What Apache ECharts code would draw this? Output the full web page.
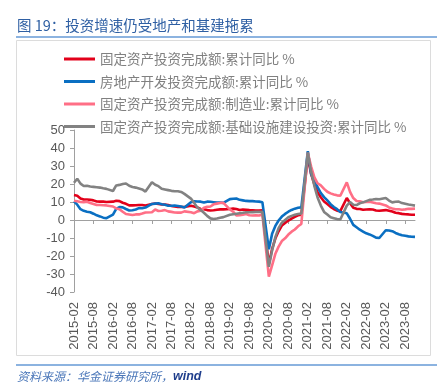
<!DOCTYPE html>
<html>
<head>
<meta charset="utf-8">
<script src="https://cdn.jsdelivr.net/npm/echarts@6/dist/echarts.min.js"></script>
<style>html,body{margin:0;padding:0;background:#fff;}#c{width:437px;height:389px;}</style>
</head>
<body>
<div id="c"></div>
<script>
// Months from 2015-02 to 2023-11 (January has no cumulative figure -> null)
const startYear = 2015, startMonth = 2, endYear = 2023, endMonth = 11;
const categories = [];
for (let y = startYear; y <= endYear; y++) {
  for (let m = (y === startYear ? startMonth : 1); m <= (y === endYear ? endMonth : 12); m++) {
    categories.push(y + '-' + (m < 10 ? '0' + m : m));
  }
}

const seriesNames = [
  '固定资产投资完成额:累计同比 %',
  '房地产开发投资完成额:累计同比 %',
  '固定资产投资完成额:制造业:累计同比 %',
  '固定资产投资完成额:基础设施建设投资:累计同比 %'
];

// Each row: Feb..Dec, then null for next January
const fai = [
  13.9, 13.5, 12.0, 11.4, 11.4, 11.2, 10.9, 10.3, 10.2, 10.2, 10.0, null,
  10.2, 10.7, 10.5, 9.6, 9.0, 8.1, 8.1, 8.2, 8.3, 8.3, 8.1, null,
  8.9, 9.2, 8.9, 8.6, 8.6, 8.3, 7.8, 7.5, 7.3, 7.2, 7.2, null,
  7.9, 7.5, 7.0, 6.1, 6.0, 5.5, 5.3, 5.4, 5.7, 5.9, 5.9, null,
  6.1, 6.3, 6.1, 5.6, 5.8, 5.7, 5.5, 5.4, 5.2, 5.2, 5.4, null,
  -24.5, -16.1, -10.3, -6.3, -3.1, -1.6, -0.3, 0.8, 1.8, 2.6, 2.9, null,
  35.0, 25.6, 19.9, 15.4, 12.6, 10.3, 8.9, 7.3, 6.1, 5.2, 4.9, null,
  12.2, 9.3, 6.8, 6.2, 6.1, 5.7, 5.8, 5.9, 5.8, 5.3, 5.1, null,
  5.5, 5.1, 4.7, 4.0, 3.8, 3.4, 3.2, 3.1, 2.9, 2.9
];

const realEstate = [
  10.4, 8.5, 6.0, 5.1, 4.6, 4.3, 3.5, 2.6, 2.0, 1.3, 1.0, null,
  3.0, 6.2, 7.2, 7.0, 6.1, 5.3, 5.4, 5.8, 6.6, 6.5, 6.9, null,
  8.9, 9.1, 9.3, 8.8, 8.5, 7.9, 7.9, 8.1, 7.8, 7.5, 7.0, null,
  9.9, 10.4, 10.3, 10.2, 9.7, 10.2, 10.1, 9.9, 9.7, 9.7, 9.5, null,
  11.6, 11.8, 11.9, 11.2, 10.9, 10.6, 10.5, 10.5, 10.3, 10.2, 9.9, null,
  -16.3, -7.7, -3.3, -0.3, 1.9, 3.4, 4.6, 5.6, 6.3, 6.8, 7.0, null,
  38.3, 25.6, 21.6, 18.3, 15.0, 12.7, 10.9, 8.8, 7.2, 6.0, 4.4, null,
  3.7, 0.7, -2.7, -4.0, -5.4, -6.4, -7.4, -8.0, -8.8, -9.8, -10.0, null,
  -5.7, -5.8, -6.2, -7.2, -7.9, -8.5, -8.8, -9.1, -9.3, -9.4
];

const manufacturing = [
  10.7, 10.4, 10.0, 9.9, 10.1, 9.4, 8.9, 8.3, 8.3, 8.2, 8.1, null,
  7.5, 6.4, 6.0, 4.6, 3.3, 3.1, 2.8, 3.1, 3.1, 3.6, 4.2, null,
  4.3, 5.8, 5.0, 5.1, 5.5, 4.8, 4.5, 4.2, 4.1, 4.1, 4.8, null,
  4.3, 3.8, 4.8, 5.2, 6.8, 7.3, 7.5, 8.7, 9.1, 9.5, 9.5, null,
  5.9, 4.6, 2.5, 2.7, 3.0, 3.3, 2.6, 2.5, 2.6, 2.5, 3.1, null,
  -31.5, -25.2, -18.8, -14.8, -11.7, -10.2, -8.1, -6.5, -5.3, -3.5, -2.2, null,
  37.3, 29.8, 23.8, 20.4, 19.2, 17.3, 15.7, 14.8, 14.2, 13.7, 13.5, null,
  20.9, 15.6, 12.2, 10.6, 10.4, 9.9, 10.0, 10.1, 9.7, 9.3, 9.1, null,
  8.1, 7.0, 6.4, 6.0, 6.0, 5.7, 5.9, 6.2, 6.2, 6.3
];

const infrastructure = [
  20.7, 22.9, 20.2, 18.9, 19.0, 18.6, 18.4, 18.2, 18.0, 17.6, 17.3, null,
  16.1, 19.2, 19.5, 20.0, 20.3, 19.0, 18.3, 18.0, 17.5, 17.0, 15.8, null,
  21.0, 19.6, 18.8, 17.4, 17.0, 16.6, 16.2, 16.0, 16.0, 15.6, 14.5, null,
  11.9, 9.5, 7.0, 5.5, 4.0, 2.3, 0.9, 0.6, 0.8, 1.2, 1.6, null,
  2.9, 3.2, 3.5, 3.8, 4.0, 4.3, 4.3, 4.4, 4.5, 4.5, 4.6, null,
  -26.0, -17.0, -9.5, -4.5, -1.5, 0.0, 1.5, 2.3, 2.9, 3.3, 3.6, null,
  37.5, 27.0, 19.0, 12.5, 8.0, 4.5, 3.0, 1.5, 1.0, 0.5, 0.3, null,
  8.0, 10.0, 8.5, 8.3, 9.3, 9.8, 10.5, 11.2, 11.4, 11.7, 11.5, null,
  12.2, 10.8, 9.8, 10.1, 10.2, 9.4, 9.0, 8.6, 8.3, 8.0
];

const yTicks = { min: -40, max: 50, interval: 10 };
const colors = ['#e2001a', '#0a6fc2', '#ff6f86', '#828282'];
const seriesData = [fai, realEstate, manufacturing, infrastructure];

const chart = echarts.init(document.getElementById('c'), null, { renderer: 'canvas' });
const cjk = '"Noto Sans CJK SC", "Noto Sans", sans-serif';
const latin = '"Liberation Sans", Arial, sans-serif';

chart.setOption({
  animation: false,
  backgroundColor: '#ffffff',
  grid: { left: 74, right: 22, top: 130, bottom: 97, containLabel: false },
  legend: {
    orient: 'vertical',
    left: 59,
    top: 46,
    itemWidth: 31,
    itemHeight: 3,
    itemGap: 6.5,
    icon: 'rect',
    data: seriesNames,
    textStyle: { color: '#808080', fontSize: 13.5, fontFamily: cjk, lineHeight: 16 }
  },
  xAxis: [
    {
      type: 'category',
      data: categories,
      boundaryGap: false,
      position: 'bottom',
      axisLine: { show: false, onZero: false },
      axisTick: { show: false },
      axisLabel: { rotate: 90, interval: 5, margin: 10, color: '#595959', fontSize: 13, fontFamily: latin }
    },
    {
      type: 'category',
      data: categories,
      boundaryGap: false,
      position: 'bottom',
      axisLine: { show: true, onZero: true, lineStyle: { color: '#a0a0a0', width: 1 } },
      axisTick: { show: true, interval: 5, length: 4, lineStyle: { color: '#a0a0a0' } },
      axisLabel: { show: false }
    }
  ],
  yAxis: {
    type: 'value',
    min: yTicks.min,
    max: yTicks.max,
    interval: yTicks.interval,
    axisLine: { show: true, lineStyle: { color: '#a0a0a0', width: 1 } },
    axisTick: { show: true, length: 4, lineStyle: { color: '#a0a0a0' } },
    splitLine: { show: false },
    axisLabel: { margin: 9, color: '#595959', fontSize: 13, fontFamily: latin }
  },
  series: seriesNames.map((n, i) => ({
    name: n,
    type: 'line',
    xAxisIndex: 0,
    data: seriesData[i],
    connectNulls: true,
    showSymbol: false,
    symbol: 'none',
    color: colors[i],
    lineStyle: { color: colors[i], width: 2.6 }
  })),
  graphic: [
    { type: 'text', left: 17, top: 18, style: { text: '图 19：投资增速仍受地产和基建拖累', fill: '#2e5fa3', font: '14.5px "Noto Sans CJK SC", sans-serif' } },
    { type: 'line', shape: { x1: 16, y1: 37, x2: 437, y2: 37 }, style: { stroke: '#8cb3e0', lineWidth: 2 } },
    { type: 'rect', shape: { x: 16.5, y: 40.5, width: 414, height: 315 }, style: { fill: 'none', stroke: '#dcdcdc', lineWidth: 1 }, z: -1 },
    { type: 'line', shape: { x1: 16, y1: 365, x2: 437, y2: 365 }, style: { stroke: '#8cb3e0', lineWidth: 2 } },
    { type: 'text', left: 17, top: 370, style: {
        text: '{a|资料来源：华金证券研究所，}{b|wind}',
        rich: {
          a: { fill: '#4b77b9', fontSize: 12, fontStyle: 'italic', fontFamily: cjk },
          b: { fill: '#1f3e8c', fontSize: 12.5, fontStyle: 'italic', fontWeight: 'bold', fontFamily: latin }
        }
    } }
  ]
});
</script>
</body>
</html>
